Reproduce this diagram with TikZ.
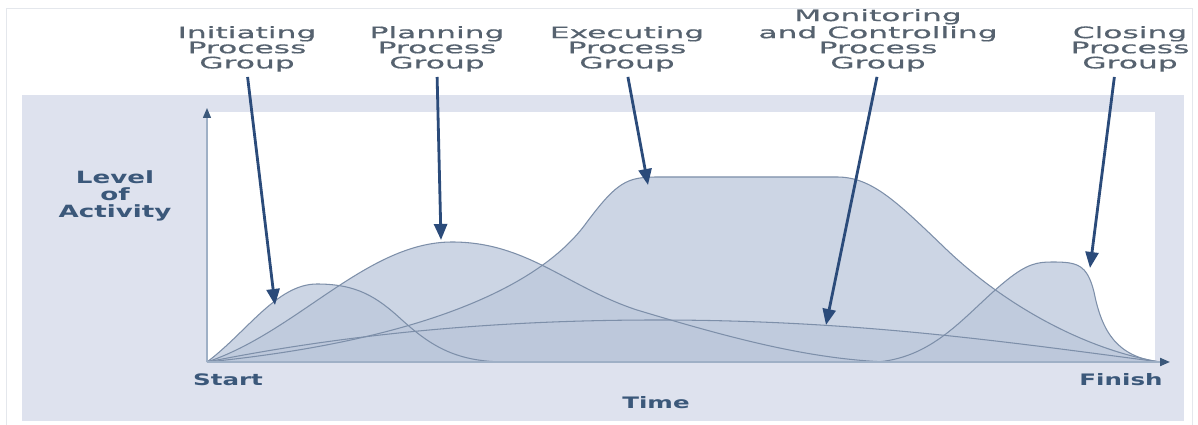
\documentclass[tikz,border=0pt]{standalone}
\usepackage{fontspec}
\usetikzlibrary{arrows.meta}
\newfontfamily\groupfont[FakeStretch=1.98,FakeBold=0.6]{DejaVu Sans}
\newfontfamily\axisfont[FakeStretch=1.55]{DejaVu Sans Bold}
\definecolor{panel}{HTML}{DEE2EE}
\definecolor{curvefill}{HTML}{BCC8DB}
\definecolor{curveline}{HTML}{7D8FA9}
\definecolor{grouptext}{HTML}{56626F}
\definecolor{axistext}{HTML}{3B587A}
\definecolor{arrowblue}{HTML}{2B4B7A}
\definecolor{axisline}{HTML}{9FB0C6}
\definecolor{framegray}{HTML}{E4E7EC}
\tikzset{
  phasefill/.style = {fill=curvefill, fill opacity=0.75},
  phaseline/.style = {draw=curveline, line width=0.6pt},
  grouplabel/.style = {anchor=south, inner sep=0pt, align=center, text=grouptext,
                       font=\groupfont\fontsize{9}{8.6}\selectfont},
  axislabel/.style = {inner sep=0pt, align=center, text=axistext,
                      font=\axisfont\fontsize{9}{9}\selectfont},
  pointer/.style = {draw=arrowblue, line width=1.6pt, shorten <=1mm,
                    -{Triangle[length=3.2mm,width=2.6mm]}},
  axis/.style = {draw=axisline, line width=1.1pt,
                 -{Triangle[length=2mm,width=1.6mm,color=axistext]}}
}

\begin{document}
\begin{tikzpicture}[x=0.2mm, y=0.2mm]
    \useasboundingbox (-207,-63) rectangle (991,362);
    \draw[framegray, line width=0.5pt] (-201,-70) -- (-201,354) -- (985,354) -- (985,-70);
    \fill[panel] (-185,-59) rectangle (977,267);
    \fill[white] (0,0) rectangle (948,250);

    % areas under each process group
    \begin{scope}[phasefill]
        \fill[save path=\pexec] (0,0) .. controls (200,20) and (330,70) .. (380,140)
            .. controls (410,180) and (420,185) .. (450,185) -- (630,185)
            .. controls (665,185) and (690,160) .. (740,112)
            .. controls (800,55) and (880,12) .. (953,0);
        \fill[save path=\pplan] (0,0) .. controls (90,30) and (160,120) .. (245,120)
            .. controls (320,120) and (360,75) .. (430,52)
            .. controls (520,25) and (600,3) .. (680,0);
        \fill[save path=\pinit] (0,0) .. controls (40,30) and (70,78) .. (110,78)
            .. controls (150,78) and (170,65) .. (195,42)
            .. controls (225,15) and (250,0) .. (300,0);
        \fill[save path=\pmon] (0,0) .. controls (150,30) and (300,42) .. (450,42)
            .. controls (650,42) and (800,20) .. (953,0);
        \fill[save path=\pclose] (670,0) .. controls (730,5) and (760,50) .. (800,82)
            .. controls (820,98) and (830,100) .. (845,100)
            .. controls (870,100) and (880,98) .. (887,70)
            .. controls (895,30) and (910,5) .. (953,0);
    \end{scope}
    \foreach \curve in {\pexec,\pplan,\pinit,\pmon,\pclose}
        \draw[phaseline, use path=\curve];

    \coordinate (origin) at (0,0);
    \coordinate (xend) at (963,0);
    \coordinate (yend) at (0,254);
    \draw[axis] (origin) -- (xend);
    \draw[axis, line width=0.8pt] (origin) -- (yend);

    \node[grouplabel] (initiating) at (40,290) {Initiating\\Process\\Group};
    \node[grouplabel] (planning) at (230,290) {Planning\\Process\\Group};
    \node[grouplabel] (executing) at (420,290) {Executing\\Process\\Group};
    \node[grouplabel] (monitoring) at (671,290) {Monitoring\\and Controlling\\Process\\Group};
    \node[grouplabel] (closing) at (923,290) {Closing\\Process\\Group};

    \coordinate (initTip) at (68,57);
    \coordinate (planTip) at (234,122);
    \coordinate (execTip) at (441,177);
    \coordinate (monTip) at (619,37);
    \coordinate (closeTip) at (883,94);

    \draw[pointer] (initiating.south) -- (initTip);
    \draw[pointer] (planning.south) -- (planTip);
    \draw[pointer] (executing.south) -- (execTip);
    \draw[pointer] (monitoring.south) -- (monTip);
    \draw[pointer] ([xshift=-3mm]closing.south) -- (closeTip);

    \node[axislabel, font=\axisfont\fontsize{9.6}{9.6}\selectfont] (level) at (-92,166) {Level\\of\\Activity};
    \node[axislabel] (start) at (21,-18) {Start};
    \node[axislabel] (finish) at (914,-18) {Finish};
    \node[axislabel] (time) at (449,-41) {Time};
\end{tikzpicture}
\end{document}
